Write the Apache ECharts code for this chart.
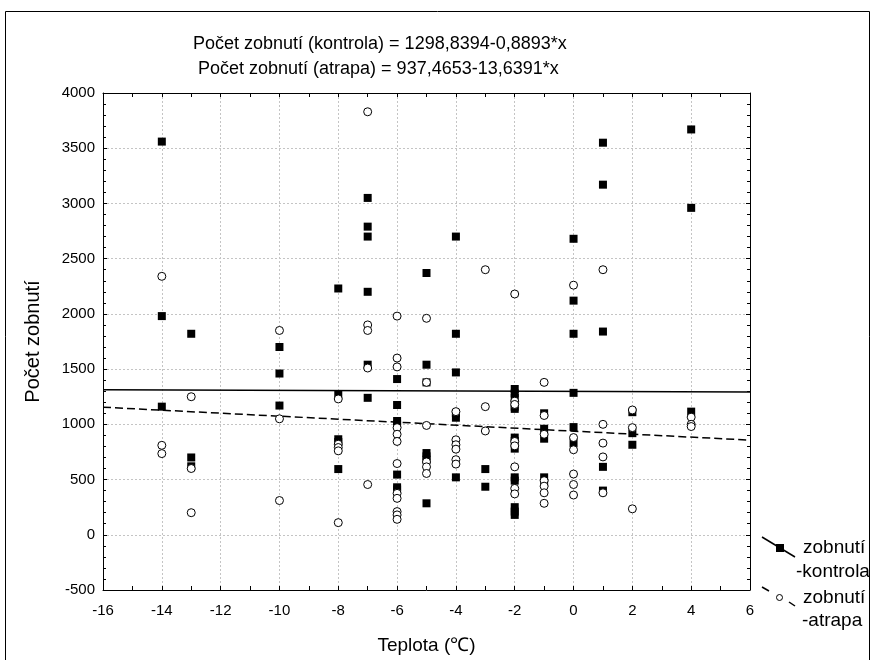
<!DOCTYPE html>
<html>
<head>
<meta charset="utf-8">
<script src="https://cdn.jsdelivr.net/npm/echarts@6/dist/echarts.min.js"></script>
<style>html,body{margin:0;padding:0;background:#fff;}#c{width:875px;height:660px;}</style>
</head>
<body>
<div id="c"></div>
<script>
const titleLines = [
  'Počet zobnutí (kontrola) = 1298,8394-0,8893*x',
  'Počet zobnutí (atrapa) = 937,4653-13,6391*x'
];
const xName = 'Teplota (℃)';
const yName = 'Počet zobnutí';
const legendNames = [['zobnutí', '-kontrola'], ['zobnutí', '-atrapa']];

const kontrola = [
  [-14,3560],[-14,1980],[-14,1160],
  [-13,1820],[-13,700],[-13,620],
  [-10,1700],[-10,1460],[-10,1170],
  [-8,2230],[-8,1270],[-8,865],[-8,840],[-8,595],
  [-7,3050],[-7,2790],[-7,2700],[-7,2200],[-7,1540],[-7,1240],
  [-6,1410],[-6,1175],[-6,1030],[-6,1000],[-6,545],[-6,430],[-6,410],
  [-5,2370],[-5,1540],[-5,1380],[-5,740],[-5,710],[-5,680],[-5,285],
  [-4,2700],[-4,1820],[-4,1470],[-4,1100],[-4,1060],[-4,520],
  [-3,595],[-3,435],
  [-2,1320],[-2,1280],[-2,1240],[-2,1160],[-2,1140],[-2,880],[-2,850],[-2,780],[-2,520],[-2,490],[-2,250],[-2,210],[-2,180],
  [-1,1100],[-1,960],[-1,870],[-1,520],[-1,470],
  [0,2680],[0,2120],[0,1820],[0,1285],[0,975],[0,830],
  [1,3550],[1,3170],[1,1840],[1,615],[1,400],
  [2,1110],[2,920],[2,815],
  [4,3670],[4,2960],[4,1115]
];
const atrapa = [
  [-14,2340],[-14,810],[-14,735],
  [-13,1250],[-13,600],[-13,200],
  [-10,1850],[-10,1050],[-10,310],
  [-8,1230],[-8,820],[-8,790],[-8,760],[-8,110],
  [-7,3830],[-7,1900],[-7,1850],[-7,1510],[-7,455],
  [-6,1980],[-6,1600],[-6,1520],[-6,970],[-6,910],[-6,845],[-6,645],[-6,375],[-6,330],[-6,210],[-6,180],[-6,140],
  [-5,1960],[-5,1380],[-5,990],[-5,660],[-5,615],[-5,555],
  [-4,1115],[-4,860],[-4,815],[-4,775],[-4,680],[-4,640],
  [-3,2400],[-3,1160],[-3,940],
  [-2,2180],[-2,1210],[-2,1180],[-2,845],[-2,805],[-2,615],[-2,420],[-2,370],
  [-1,1380],[-1,1080],[-1,910],[-1,490],[-1,440],[-1,380],[-1,285],
  [0,2260],[0,880],[0,770],[0,550],[0,455],[0,360],
  [1,2400],[1,1000],[1,830],[1,705],[1,380],
  [2,1130],[2,970],[2,235],
  [4,1065],[4,1000],[4,980]
];
const fitKontrola = [[-16,1313],[6,1293]];
const fitAtrapa = [[-16,1155],[6,857]];

const FONT = 'Liberation Sans, Arial, sans-serif';
const chart = echarts.init(document.getElementById('c'), null, {renderer:'canvas'});
const G = {left:103, top:93, width:647, height:497};

const axisLineStyle = {show:true, onZero:false, lineStyle:{color:'#000', width:1}};
const tickStyle = {show:true, inside:true, length:4, lineStyle:{color:'#000'}};

chart.setOption({
  animation:false,
  backgroundColor:'#fff',
  grid:G,
  xAxis:[{
    type:'value', min:-16, max:6, interval:2, position:'bottom',
    axisLine:axisLineStyle, axisTick:tickStyle,
    minorTick:{show:true, splitNumber:2, length:4, lineStyle:{color:'#000'}},
    axisLabel:{color:'#000', fontSize:15, fontFamily:FONT, margin:13},
    splitLine:{show:true, lineStyle:{color:'#c4c4c4', type:[2,2], width:1}},
    name:xName, nameLocation:'middle', nameGap:46,
    nameTextStyle:{color:'#000', fontSize:19, fontFamily:FONT}
  },{
    type:'value', min:-16, max:6, interval:2, position:'top',
    axisLine:axisLineStyle, axisTick:tickStyle,
    minorTick:{show:true, splitNumber:2, length:4, lineStyle:{color:'#000'}},
    axisLabel:{show:false}, splitLine:{show:false}
  }],
  yAxis:[{
    type:'value', min:-500, max:4000, interval:500, position:'left',
    axisLine:axisLineStyle, axisTick:tickStyle,
    minorTick:{show:true, splitNumber:5, length:3, lineStyle:{color:'#000'}},
    axisLabel:{color:'#000', fontSize:15, fontFamily:FONT, margin:8, formatter:v=>String(v)},
    splitLine:{show:true, lineStyle:{color:'#c4c4c4', type:[2,2], width:1}},
    name:yName, nameLocation:'middle', nameGap:60,
    nameTextStyle:{color:'#000', fontSize:20, fontFamily:FONT}
  },{
    type:'value', min:-500, max:4000, interval:500, position:'right',
    axisLine:axisLineStyle, axisTick:tickStyle,
    minorTick:{show:true, splitNumber:5, length:3, lineStyle:{color:'#000'}},
    axisLabel:{show:false}, splitLine:{show:false}
  }],
  series:[
    {type:'line', data:fitKontrola, symbol:'none', lineStyle:{color:'#000', width:1.5}, silent:true, z:2},
    {type:'line', data:fitAtrapa, symbol:'none', lineStyle:{color:'#000', width:1.5, type:[8,4]}, silent:true, z:2},
    {type:'scatter', name:'kontrola', data:kontrola, symbol:'rect', symbolSize:8,
      itemStyle:{color:'#000', opacity:1}, z:3},
    {type:'scatter', name:'atrapa', data:atrapa, symbol:'circle', symbolSize:8,
      itemStyle:{color:'#fff', borderColor:'#000', borderWidth:1, opacity:1}, z:4}
  ],
  graphic:[
    {type:'rect', shape:{x:5.5, y:11.5, width:864, height:660}, style:{fill:'none', stroke:'#000', lineWidth:1}, silent:true},
    {type:'text', left:193, top:35, style:{text:titleLines[0], font:'18px '+FONT, fill:'#000'}, silent:true},
    {type:'text', left:198, top:60, style:{text:titleLines[1], font:'18px '+FONT, fill:'#000'}, silent:true},
    {type:'line', shape:{x1:762, y1:537, x2:795, y2:557}, style:{stroke:'#000', lineWidth:1.5}},
    {type:'rect', shape:{x:776, y:544, width:8, height:8}, style:{fill:'#000'}},
    {type:'text', left:803, top:538, style:{text:legendNames[0][0], font:'19px '+FONT, fill:'#000'}},
    {type:'text', left:796, top:562, style:{text:legendNames[0][1], font:'19px '+FONT, fill:'#000'}},
    {type:'line', shape:{x1:762, y1:587, x2:769, y2:591}, style:{stroke:'#000', lineWidth:1.5}},
    {type:'circle', shape:{cx:779.5, cy:597.5, r:3}, style:{fill:'#fff', stroke:'#000', lineWidth:1}},
    {type:'line', shape:{x1:789, y1:602, x2:795, y2:606}, style:{stroke:'#000', lineWidth:1.5}},
    {type:'text', left:803, top:588, style:{text:legendNames[1][0], font:'19px '+FONT, fill:'#000'}},
    {type:'text', left:802, top:611, style:{text:legendNames[1][1], font:'19px '+FONT, fill:'#000'}}
  ]
});
</script>
</body>
</html>
